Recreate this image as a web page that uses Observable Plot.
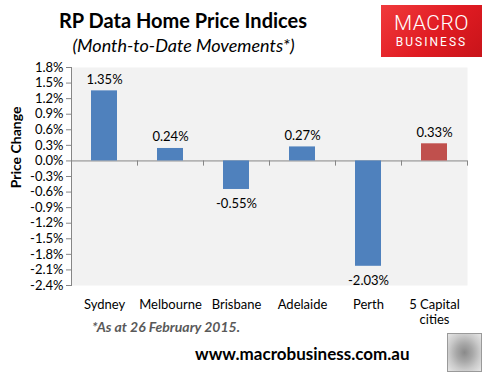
<!DOCTYPE html>
<html><head><meta charset="utf-8">
<script src="https://cdn.jsdelivr.net/npm/d3@7"></script>
<script src="https://cdn.jsdelivr.net/npm/@observablehq/plot@0.6"></script>
<style>
body{margin:0;background:#fff;font-family:Lato,sans-serif}
#wrap{position:relative;width:491px;height:374px;overflow:hidden;background:#fff}
.abs{position:absolute;white-space:nowrap}
#chart{position:absolute;left:0;top:0}
</style></head><body>
<div id="wrap">
  <div id="chart"></div>
  <div class="abs" style="left:0;width:366px;top:8px;text-align:center;font-weight:bold;font-size:20px;color:#000">RP Data Home Price Indices</div>
  <div class="abs" style="left:0;width:367px;top:34px;text-align:center;font-style:italic;font-size:18px;color:#000">(Month-to-Date Movements*)</div>
  <div class="abs" style="left:381px;top:5px;width:101px;height:52px;background:linear-gradient(135deg,#f03a3c 0%,#e01b22 55%,#c8141a 100%);color:#fff;text-align:center;font-family:Roboto,'Liberation Sans',sans-serif">
    <div style="font-size:21px;line-height:21px;margin-top:8px;font-weight:300;letter-spacing:0.5px">MACRO</div>
    <div style="font-size:12px;line-height:14px;letter-spacing:2px;margin-top:1px">BUSINESS</div>
  </div>
  <div class="abs" style="left:92px;top:318px;font-weight:bold;font-style:italic;font-size:14px;color:#595959">*As at 26 February 2015.</div>
  <div class="abs" style="left:195px;top:343px;font-weight:bold;font-size:17px;color:#000">www.macrobusiness.com.au</div>
  <div class="abs" style="left:447px;top:333px;width:33px;height:37px;border:1px solid #9a9a9a;background:radial-gradient(ellipse at 50% 50%,#8a8a8a 0%,#a8a8a8 35%,#c9c9c9 65%,#e6e6e6 100%)"></div>
</div>
<script>
const cities = ["Sydney","Melbourne","Brisbane","Adelaide","Perth","5 Capital cities"];
const changes = [1.35, 0.24, -0.55, 0.27, -2.03, 0.33];
const highlight = [false, false, false, false, false, true];
const yTicks = [-2.4,-2.1,-1.8,-1.5,-1.2,-0.9,-0.6,-0.3,0,0.3,0.6,0.9,1.2,1.5,1.8];

const data = cities.map((c,i)=>({city:c, value:changes[i], hl:highlight[i]}));
const fmtTick = d => (Math.abs(d) < 1e-9 ? 0 : d).toFixed(1) + "%";
const fmtVal = d => d.toFixed(2) + "%";
const wrapLabel = d => d === "5 Capital cities" ? "5 Capital\ncities" : d;

const chart = Plot.plot({
  width: 491, height: 374,
  marginTop: 67, marginBottom: 89, marginLeft: 71, marginRight: 24,
  style: {fontFamily: "Lato, sans-serif", fontSize: "13px", background: "transparent", color: "#000"},
  x: {domain: cities, paddingInner: 0.6, paddingOuter: 0.3, axis: null},
  y: {domain: [-2.4, 1.8], axis: null},
  marks: [
    Plot.frame({fill: "#f2f2f2", stroke: null}),
    Plot.ruleY([0], {stroke: "#868686"}),
    Plot.ruleX(cities, {x: d => d, dx: 33, y1: 0, y2: -0.1, stroke: "#868686"}),
    Plot.barY(data, {x: "city", y: "value", fill: d => d.hl ? "#c0504d" : "#4f81bd"}),
    Plot.frame({anchor: "left", stroke: "#868686"}),
    Plot.axisY({ticks: yTicks, tickFormat: fmtTick, tickSize: 5, tickPadding: 3, stroke: "#868686", fill: "#000", label: null, fontSize: 13}),
    Plot.axisX({tickSize: 0, tickPadding: 12, tickFormat: wrapLabel, fill: "#000", label: null, lineHeight: 1.2, fontSize: 13}),
    Plot.text(data.filter(d => d.value >= 0), {x: "city", y: "value", text: d => fmtVal(d.value), lineAnchor: "bottom", dy: -7, fill: "#000", fontSize: 13}),
    Plot.text(data.filter(d => d.value < 0), {x: "city", y: "value", text: d => fmtVal(d.value), lineAnchor: "top", dy: 9, fill: "#000", fontSize: 13}),
    Plot.text(["Price Change"], {frameAnchor: "left", dx: -55, dy: -29, rotate: -90, textAnchor: "middle", text: d => d, fontWeight: "bold", fontSize: 14, fill: "#000"})
  ]
});
document.getElementById("chart").appendChild(chart);
</script>
</body></html>
